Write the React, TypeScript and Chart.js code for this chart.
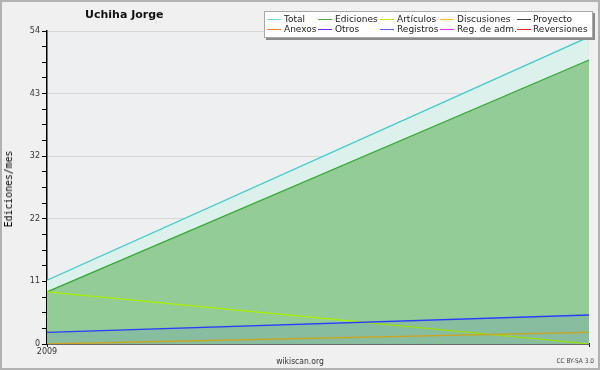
import React, { useEffect, useRef } from "react";
import { Chart, registerables } from "chart.js";

Chart.register(...registerables);

// ---- data ----
const categories = ["2009-01", "2009-02"];
const xTickLabels = ["2009", ""];
const totalValues = [11, 53];
const edicionesValues = [9, 49];
const articulosValues = [9, 0];
const discusionesValues = [0, 2];
const registrosValues = [2, 5];
const yMax = 54;
const yMajorCount = 5;
const yMinorPerMajor = 4;

const legendNames = [
  ["Total", "Ediciones", "Artículos", "Discusiones", "Proyecto"],
  ["Anexos", "Otros", "Registros", "Reg. de adm.", "Reversiones"],
];
const legendColors = [
  ["#66dcd4", "#44b044", "#bbee00", "#ffbb22", "#444444"],
  ["#ff7722", "#7722ee", "#5566ff", "#dd33ee", "#ee2222"],
];

const legendLineX = [267, 318, 380, 440, 517];
const legendTextX = [284, 335, 397, 457, 533];
const legendRowY = [19, 29];

export default function App() {
  const canvasRef = useRef<HTMLCanvasElement | null>(null);

  useEffect(() => {
    const canvas = canvasRef.current;
    if (!canvas) return;
    const plotBg = {
      id: "plotBg",
      beforeDraw(chart: any) {
        const { ctx, chartArea } = chart;
        ctx.save();
        ctx.fillStyle = "#eeeff0";
        ctx.fillRect(chartArea.left, chartArea.top, chartArea.right - chartArea.left, chartArea.bottom - chartArea.top);
        ctx.restore();
      },
    };
    const step = yMax / (yMajorCount * yMinorPerMajor);
    const chart = new Chart(canvas, {
      type: "line",
      data: {
        labels: categories,
        datasets: [
          {
            label: "Total",
            data: totalValues,
            borderColor: "#3ccaca",
            backgroundColor: "#dcf1eb",
            fill: "origin",
            order: 5,
          },
          {
            label: "Ediciones",
            data: edicionesValues,
            borderColor: "#33a833",
            backgroundColor: "#93cc96",
            fill: "origin",
            order: 4,
          },
          {
            label: "Artículos",
            data: articulosValues,
            borderColor: "#aaee00",
            fill: false,
            order: 3,
          },
          {
            label: "Discusiones",
            data: discusionesValues,
            borderColor: "#e2b000",
            fill: false,
            order: 2,
          },
          {
            label: "Registros",
            data: registrosValues,
            borderColor: "#2a3cff",
            backgroundColor: "rgba(40,60,255,0.1)",
            fill: "origin",
            order: 1,
          },
        ],
      },
      options: {
        animation: false,
        responsive: false,
        events: [],
        layout: { padding: { top: 31, right: 11, left: 0, bottom: 0 } },
        elements: {
          point: { radius: 0 },
          line: { borderWidth: 1.3, tension: 0 },
        },
        plugins: {
          legend: { display: false },
          title: { display: false },
          tooltip: { enabled: false },
        },
        scales: {
          x: {
            type: "category",
            offset: false,
            afterFit: (s: any) => {
              s.height = 26;
            },
            grid: {
              display: true,
              drawOnChartArea: false,
              drawTicks: true,
              tickLength: 3,
              tickColor: "#000",
            },
            border: { display: true, color: "#000", width: 1.5 },
            ticks: {
              autoSkip: false,
              maxRotation: 0,
              padding: 0,
              color: "#333",
              font: { family: "DejaVu Sans", size: 8 },
              callback: (_v: any, i: number) => xTickLabels[i],
            },
          },
          y: {
            min: 0,
            max: yMax,
            afterFit: (s: any) => {
              s.width = 47;
            },
            afterBuildTicks: (s: any) => {
              const t = [];
              for (let i = 0; i <= yMajorCount * yMinorPerMajor; i++) t.push({ value: i * step });
              s.ticks = t;
            },
            grid: {
              color: (ctx: any) => (ctx.index % yMinorPerMajor === 0 ? "#d6d6d6" : "rgba(0,0,0,0)"),
              tickColor: "#000",
              tickLength: 5,
              drawTicks: true,
            },
            border: { display: true, color: "#000", width: 1.5 },
            ticks: {
              autoSkip: false,
              padding: 2,
              color: "#333",
              font: { family: "DejaVu Sans", size: 8 },
              callback: (v: any, i: number) => (i % yMinorPerMajor === 0 ? String(Math.round(Number(v))) : ""),
            },
          },
        },
      },
      plugins: [plotBg],
    } as any);
    return () => chart.destroy();
  }, []);

  const items: any[] = [];
  legendNames.forEach((row, r) =>
    row.forEach((name, c) => {
      items.push(
        <div
          key={"l" + r + c}
          style={{
            position: "absolute",
            left: legendLineX[c],
            top: legendRowY[r],
            width: 14,
            height: 1,
            background: legendColors[r][c],
          }}
        />
      );
      items.push(
        <div
          key={"t" + r + c}
          style={{
            position: "absolute",
            left: legendTextX[c],
            top: legendRowY[r] - 4.3,
            font: "9px 'DejaVu Sans'",
            lineHeight: "9px",
            color: "#222",
            whiteSpace: "nowrap",
          }}
        >
          {name}
        </div>
      );
    })
  );

  return (
    <div
      style={{
        position: "absolute",
        left: 0,
        top: 0,
        width: 600,
        height: 370,
        background: "#f0f0f0",
        overflow: "hidden",
      }}
    >
      <canvas ref={canvasRef} width={600} height={370} style={{ position: "absolute", left: 0, top: 0 }} />
      <div
        style={{
          position: "absolute",
          left: 85,
          top: 8.5,
          font: "bold 11px 'DejaVu Sans'",
          lineHeight: "11px",
          color: "#111",
          whiteSpace: "nowrap",
        }}
      >
        Uchiha Jorge
      </div>
      <div
        style={{
          position: "absolute",
          left: 9,
          top: 188.5,
          transform: "translate(-50%, -50%) rotate(-90deg)",
          font: "9.8px 'DejaVu Sans Mono'",
          lineHeight: "10px",
          color: "#000",
          whiteSpace: "nowrap",
        }}
      >
        Ediciones/mes
      </div>
      <div
        style={{
          position: "absolute",
          left: 264,
          top: 11,
          width: 329,
          height: 27,
          boxSizing: "border-box",
          background: "#fff",
          border: "1px solid #a8a8a8",
          boxShadow: "2px 2px 0 #8a8a8a",
        }}
      />
      {items}
      <div
        style={{
          position: "absolute",
          left: 300,
          top: 356.5,
          transform: "translateX(-50%)",
          font: "8.5px 'DejaVu Sans Condensed'",
          lineHeight: "9px",
          color: "#333",
          whiteSpace: "nowrap",
        }}
      >
        wikiscan.org
      </div>
      <div
        style={{
          position: "absolute",
          right: 6,
          top: 357.5,
          font: "6.5px 'DejaVu Sans Condensed'",
          lineHeight: "7px",
          color: "#444",
          whiteSpace: "nowrap",
        }}
      >
        CC BY-SA 3.0
      </div>
      <div
        style={{
          position: "absolute",
          left: 0,
          top: 0,
          width: 600,
          height: 370,
          boxSizing: "border-box",
          border: "2px solid #b2b2b2",
          pointerEvents: "none",
        }}
      />
    </div>
  );
}
